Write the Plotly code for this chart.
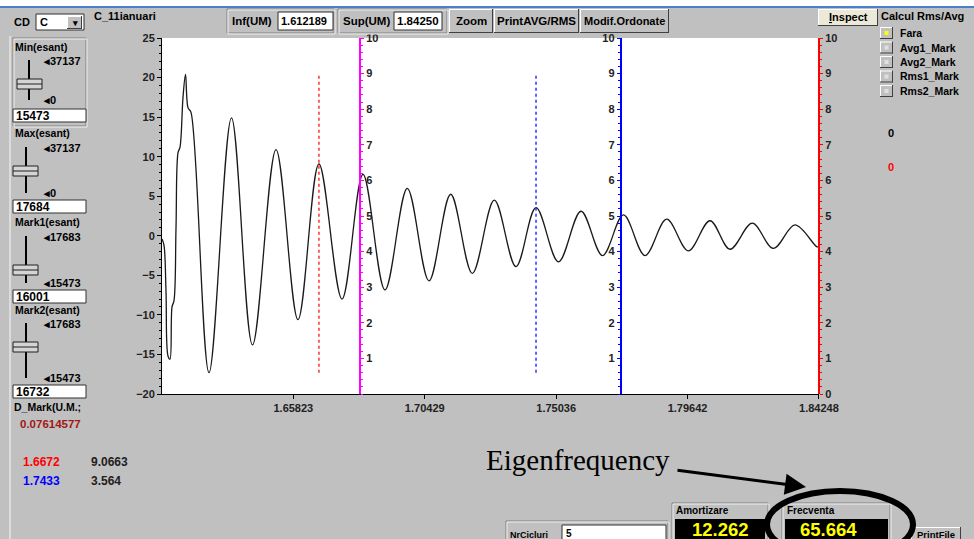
import plotly.graph_objects as go

# ---------------- data ----------------
# irregular start, then successive extrema of the damped oscillation
t_vals = [1.61219, 1.61289, 1.61359, 1.61429, 1.61499, 1.61570, 1.61640, 1.61710, 1.61780,
          1.61850, 1.61955, 1.62043, 1.62130, 1.62236,
          1.62867, 1.63655, 1.64391, 1.65215, 1.65986, 1.66720, 1.67529, 1.68265,
          1.69036, 1.69818, 1.70579, 1.71339, 1.72097, 1.72868, 1.73628, 1.74330,
          1.75118, 1.75907, 1.76661, 1.77397, 1.78150, 1.78911, 1.79668, 1.80429,
          1.81130, 1.81912, 1.82648, 1.83409, 1.84180, 1.84250]
v_vals = [-0.4, -1.2, -7.0, -15.2, -15.6, -9.0, -8.2, 1.0, 10.5,
          11.2, 17.5, 20.4, 16.2, 15.6,
          -17.3, 14.9, -13.8, 10.9, -10.6, 9.07, -8.0, 7.75,
          -6.85, 6.0, -5.7, 5.25, -4.75, 4.5, -3.9, 3.56,
          -3.3, 3.1, -2.5, 2.63, -2.5, 2.1, -1.9, 1.9,
          -1.7, 1.6, -1.6, 1.37, -1.4, -1.35]

x_min, x_max = 1.612189, 1.8425
x_tick_vals = [1.65823, 1.70429, 1.75036, 1.79642, 1.84248]
x_tick_text = ["1.65823", "1.70429", "1.75036", "1.79642", "1.84248"]
y_range = [-20, 25]
sec_range = [0, 10]

marker_t = [1.6672, 1.7433]          # Mark1 (red), Mark2 (blue)
marker_vals = ["9.0663", "3.564"]
marker_span = [-17.3, 20.3]           # signal min / max
axis_pos_t = [1.6816, 1.7730, 1.8425]  # magenta, blue, red secondary axes

ui_texts = dict(cd="C", file="C_11ianuari", inf="1.612189", sup="1.84250",
                min_s="15473", max_s="17684", mark1="16001", mark2="16732",
                dmark="0.07614577", amort="12.262", frecv="65.664", nrcicl="5")

# ---------------- layout geometry ----------------
W, H = 974, 539
X0P, X1P, Y0P, Y1P = 162, 819, 38, 394   # plot area in pixels


def px(x):
    return x / W


def py(y):
    return 1 - y / H


dom_x = [px(X0P), px(X1P)]
dom_y = [py(Y1P), py(Y0P)]


def t_to_paper(t):
    return dom_x[0] + (t - x_min) / (x_max - x_min) * (dom_x[1] - dom_x[0])


FONT = "Liberation Sans"
shapes = []
annotations = []


def rect(x0, y0, x1, y1, fill="rgba(0,0,0,0)", line="rgba(0,0,0,0)", lw=1):
    shapes.append(dict(type="rect", xref="paper", yref="paper", x0=px(x0), x1=px(x1),
                       y0=py(y1), y1=py(y0), fillcolor=fill,
                       line=dict(color=line, width=lw), layer="above"))


def hline(x0, x1, y, color, lw=1):
    shapes.append(dict(type="line", xref="paper", yref="paper", x0=px(x0), x1=px(x1),
                       y0=py(y), y1=py(y), line=dict(color=color, width=lw), layer="above"))


def vline(x, y0, y1, color, lw=1):
    shapes.append(dict(type="line", xref="paper", yref="paper", x0=px(x), x1=px(x),
                       y0=py(y0), y1=py(y1), line=dict(color=color, width=lw), layer="above"))


def text(x, y, s, size=10, color="#000000", anchor="left", bold=True, family=FONT, pad=1):
    annotations.append(dict(xref="paper", yref="paper", x=px(x), y=py(y), text=s,
                            showarrow=False, xanchor=anchor, yanchor="middle", borderpad=pad,
                            font=dict(family=family, size=size, color=color,
                                      weight="bold" if bold else "normal")))


def button(x0, y0, x1, y1, fill="#c0c0c0"):
    rect(x0, y0, x1, y1, fill=fill)
    hline(x0, x1, y0 + 0.5, "#ffffff")
    vline(x0 + 0.5, y0, y1, "#ffffff")
    hline(x0, x1, y1 - 0.5, "#404040")
    vline(x1 - 0.5, y0, y1, "#404040")


def textbox(x0, y0, x1, y1):
    rect(x0, y0, x1, y1, fill="#ffffff", line="#303030", lw=1)


def group(x0, y0, x1, y1):
    rect(x0, y0, x1, y1, line="#808080", lw=1)
    rect(x0 + 1, y0 + 1, x1 + 1, y1 + 1, line="#f0f0f0", lw=1)


# top strip
rect(0, 0, W, 6, fill="#ffffff")
rect(0, 6, W, 8, fill="#4a7fd0")
vline(10, 36, H, "#dcdcdc", 2)

# combo box / file name
text(12, 22, "CD", 11)
textbox(36, 14, 84, 30)
text(38, 22, ui_texts["cd"], 11)
button(67, 16, 82, 29)
text(74.5, 23, "▾", 9, anchor="center")
text(92, 16, ui_texts["file"], 11)

# Inf / Sup groups and buttons
group(227, 9, 334, 33)
text(230, 21, "Inf(UM)", 11.5)
textbox(278, 12, 333, 30)
text(279, 21, ui_texts["inf"], 11)
group(338, 9, 447, 33)
text(341, 21, "Sup(UM)", 11.5)
textbox(394, 12, 442, 30)
text(395, 21, ui_texts["sup"], 11.5)
button(449, 9, 493, 33)
text(471, 21, "Zoom", 11.5, anchor="center")
button(494, 9, 579, 33)
text(536.5, 21, "PrintAVG/RMS", 11.5, anchor="center")
button(580, 9, 669, 33)
text(624.5, 21, "Modif.Ordonate", 11, anchor="center")

# left panel sliders
group(13, 38, 86, 126)


def slider(lab, lab_y, xl, top, bot, thumb, t_top, t_bot, box_y, val, tl, tr):
    text(13, lab_y, lab, 10.5)
    vline(xl, top, bot, "#000000", 2)
    rect(tl, thumb - 5, tr, thumb + 5, fill="#d4d4d4", line="#202020", lw=1)
    hline(tl, tr, thumb, "#202020", 1)
    text(41, top + 1, "◂" + t_top, 11)
    text(41, bot, "◂" + t_bot, 11)
    textbox(13, box_y, 86, box_y + 13)
    text(14, box_y + 6.5, val, 12)


slider("Min(esant)", 47, 29, 60, 100, 84, "37137", "0", 109, ui_texts["min_s"], 17, 42)
slider("Max(esant)", 133, 26, 147, 193, 171, "37137", "0", 200, ui_texts["max_s"], 13, 38)
slider("Mark1(esant)", 222, 26, 236, 283, 270, "17683", "15473", 290, ui_texts["mark1"], 13, 38)
slider("Mark2(esant)", 310, 26, 323, 378, 347, "17683", "15473", 385, ui_texts["mark2"], 13, 38)
text(12, 407, "D_Mark(U.M.;", 10.5)
text(18, 424, ui_texts["dmark"], 11.5, color="#a01818")
text(21, 462, "%.4f" % marker_t[0], 12, color="#ff0000")
text(89, 462, marker_vals[0], 12, color="#202020")
text(21, 481, "%.4f" % marker_t[1], 12, color="#0000ff")
text(89, 481, marker_vals[1], 12, color="#202020")

# right panel
button(818, 9, 878, 26, fill="#ece9d8")
text(848, 17.5, "<u>I</u>nspect", 11, anchor="center")
text(879, 16, "Calcul Rms/Avg", 11)
for i, lab in enumerate(["Fara", "Avg1_Mark", "Avg2_Mark", "Rms1_Mark", "Rms2_Mark"]):
    yy = 33 + i * 14.5
    button(880, yy - 6, 893, yy + 6)
    rect(884.5, yy - 2, 888.5, yy + 2, fill="#ffff00" if i == 0 else "#e0e0e0")
    text(898, yy, lab, 10.5)
text(886, 133, "0", 11)
text(886, 167, "0", 11, color="#ff0000")

# bottom panel
text(484, 460, "Eigenfrequency", 29, bold=False, family="Liberation Serif")
group(506, 521, 668, 548)
text(508, 535, "NrCicluri", 9)
textbox(562, 525, 666, 545)
text(564, 533, ui_texts["nrcicl"], 10)
group(672, 503, 768, 548)
text(675, 510.5, "Amortizare", 10, pad=0)
rect(675, 519, 765, 548, fill="#000000")
text(720, 529, ui_texts["amort"], 18.5, color="#ffff00", anchor="center", pad=0)
group(782, 503, 890, 548)
text(786, 510.5, "Frecventa", 10, pad=0)
rect(785, 519, 888, 548, fill="#000000")
text(828, 529, ui_texts["frecv"], 18.5, color="#ffff00", anchor="center", pad=0)
button(911, 527, 961, 548)
text(936, 534, "PrintFile", 9.5, anchor="center")

# ellipse + arrow
shapes.append(dict(type="circle", xref="paper", yref="paper", x0=px(767), x1=px(913),
                   y0=py(558), y1=py(491), line=dict(color="#000000", width=6), layer="above"))
annotations.append(dict(xref="paper", yref="paper", x=px(806), y=py(487), ax=-130, ay=-17,
                        text="", showarrow=True, arrowhead=2, arrowsize=1.4, arrowwidth=3,
                        arrowcolor="#000000"))

# ---------------- traces ----------------
fig = go.Figure()
fig.add_trace(go.Scatter(x=t_vals, y=v_vals, mode="lines",
                         line=dict(color="#1a1a1a", width=1.3, shape="spline", smoothing=1.0),
                         showlegend=False, hoverinfo="skip"))
for t, c in zip(marker_t, ["#ff3030", "#3030ff"]):
    fig.add_trace(go.Scatter(x=[t, t], y=marker_span, mode="lines",
                             line=dict(color=c, width=1.5, dash="dot"),
                             showlegend=False, hoverinfo="skip"))
for k, ya in enumerate(["y2", "y3", "y4"]):
    fig.add_trace(go.Scatter(x=[None], y=[None], yaxis=ya, showlegend=False, hoverinfo="skip"))

tickfont = dict(family=FONT, size=11, color="#222222", weight="bold")


def sec_axis(pos_t, color, side, vals):
    return dict(overlaying="y", anchor="free", position=t_to_paper(pos_t), side=side,
                range=sec_range, tickvals=vals, ticktext=[str(v) for v in vals],
                showline=True, linecolor=color, linewidth=2, ticks="outside",
                ticklen=3, tickcolor=color, tickwidth=1,
                minor=dict(dtick=0.2, ticklen=2, tickcolor=color, ticks="outside"),
                showgrid=False, zeroline=False, tickfont=tickfont, fixedrange=True,
                automargin=False)


fig.update_layout(
    width=W, height=H, margin=dict(l=0, r=0, t=0, b=0, pad=0, autoexpand=False),
    paper_bgcolor="#c0c0c0", plot_bgcolor="#ffffff",
    xaxis=dict(domain=dom_x, range=[x_min, x_max], tickvals=x_tick_vals, ticktext=x_tick_text,
               showline=True, linecolor="#000000", linewidth=1, ticks="outside", ticklen=4,
               tickcolor="#000000", showgrid=False, zeroline=False, tickfont=tickfont,
               automargin=False),
    yaxis=dict(domain=dom_y, range=y_range, dtick=5, showline=True, linecolor="#000000",
               linewidth=1, ticks="outside", ticklen=4, tickcolor="#000000",
               minor=dict(dtick=1, ticklen=2, tickcolor="#000000", ticks="outside"),
               showgrid=False, zeroline=False, tickfont=tickfont, automargin=False),
    yaxis2=sec_axis(axis_pos_t[0], "#ff00ff", "right", list(range(1, 11))),
    yaxis3=sec_axis(axis_pos_t[1], "#0000ff", "left", list(range(1, 11))),
    yaxis4=sec_axis(axis_pos_t[2], "#ff0000", "right", list(range(0, 11))),
    shapes=shapes, annotations=annotations,
)

fig.write_html("out.html")
